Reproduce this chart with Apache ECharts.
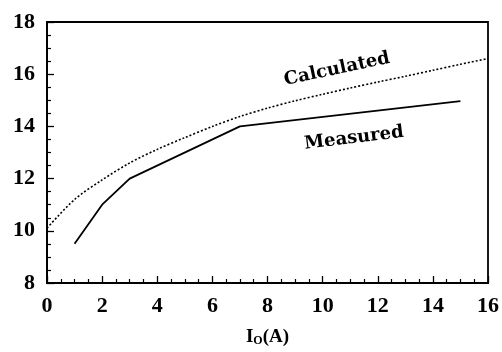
<!DOCTYPE html>
<html>
<head>
<meta charset="utf-8">
<script src="https://cdn.jsdelivr.net/npm/echarts@6/dist/echarts.min.js"></script>
<style>html,body{margin:0;padding:0;background:#fff}#c{width:502px;height:352px}</style>
</head>
<body>
<div id="c"></div>
<script>
var xTicks = [0, 2, 4, 6, 8, 10, 12, 14, 16];
var yTicks = [8, 10, 12, 14, 16, 18];
var calcX = [0, 1, 2, 3, 4, 5, 6, 7, 8, 9, 10, 11, 12, 13, 14, 15, 16];
var calcY = [10.1, 11.2, 11.95, 12.6, 13.12, 13.57, 14.0, 14.38, 14.7, 14.98, 15.23, 15.47, 15.7, 15.92, 16.15, 16.38, 16.6];
var measX = [1, 2, 3, 7, 15];
var measY = [9.5, 11.0, 12.0, 14.0, 14.97];
var labelNames = ['Calculated', 'Measured'];
var labelPos = [[10.52, 16.19], [11.14, 13.55]];
var labelRot = [12, 7];

var font = '"Liberation Serif", "DejaVu Serif", serif';
var labelFont = '"DejaVu Serif", serif';
var chart = echarts.init(document.getElementById('c'), null, {renderer: 'canvas'});
function pairs(xs, ys) { return xs.map(function (x, i) { return [x, ys[i]]; }); }

var axisCommon = {
  axisLine: {show: true, onZero: false, lineStyle: {color: '#000', width: 1.8}},
  axisTick: {show: true, inside: true, length: 7, lineStyle: {color: '#000', width: 1.3}},
  minorTick: {show: true, splitNumber: 4, length: 4, lineStyle: {color: '#000', width: 1.2}},
  splitLine: {show: false},
  axisLabel: {color: '#000', fontFamily: font, fontWeight: 'bold', fontSize: 22}
};

var labelSeries = labelNames.map(function (n, i) {
  return {
    type: 'scatter', symbolSize: 1, itemStyle: {color: 'rgba(0,0,0,0)', opacity: 1},
    data: [labelPos[i]], silent: true,
    label: {show: true, position: 'inside', formatter: n, rotate: labelRot[i], opacity: 1,
      color: '#000', fontFamily: labelFont, fontWeight: 'bold', fontSize: 18}
  };
});

chart.setOption({
  animation: false,
  grid: {left: 47, right: 14, top: 22, bottom: 65, show: true, borderColor: '#000', borderWidth: 1.8},
  xAxis: Object.assign({}, axisCommon, {
    type: 'value', min: xTicks[0], max: xTicks[xTicks.length - 1], interval: 2,
    axisLabel: Object.assign({}, axisCommon.axisLabel, {margin: 12}),
    name: '{a|I}{b|O}{a|(A)}', nameLocation: 'middle', nameGap: 44,
    nameTextStyle: {rich: {
      a: {fontFamily: font, fontWeight: 'bold', fontSize: 19, color: '#000'},
      b: {fontFamily: font, fontWeight: 'bold', fontSize: 12, color: '#000', verticalAlign: 'bottom', padding: [8, 0, 0, 0]}
    }}
  }),
  yAxis: Object.assign({}, axisCommon, {
    type: 'value', min: yTicks[0], max: yTicks[yTicks.length - 1], interval: 2,
    axisLabel: Object.assign({}, axisCommon.axisLabel, {margin: 12})
  }),
  series: [
    {type: 'line', data: pairs(calcX, calcY), smooth: 0.3, showSymbol: false,
      lineStyle: {color: '#000', width: 1.6, type: [2, 2]}},
    {type: 'line', data: pairs(measX, measY), showSymbol: false,
      lineStyle: {color: '#000', width: 1.8}}
  ].concat(labelSeries)
});
</script>
</body>
</html>
